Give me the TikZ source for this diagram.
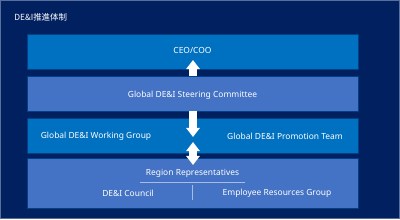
\documentclass[tikz,border=0pt]{standalone}
\usepackage{fontspec}
\setmainfont{Noto Sans}
\newfontfamily\jpfont{Noto Sans CJK JP}
\usepackage{tikz}
\usetikzlibrary{arrows.meta,positioning,calc}
\definecolor{navy}{HTML}{002060}
\definecolor{midblue}{HTML}{0070C0}
\definecolor{softblue}{HTML}{4472C4}
\definecolor{edgeblue}{HTML}{5A6E9C}
\definecolor{rule}{HTML}{A9BCE6}

\begin{document}
\begin{tikzpicture}[
    x=0.025cm, y=-0.025cm,
    tier/.style={draw=navy!60!midblue, line width=0.4pt, minimum width=8.275cm, inner sep=0pt},
    tierA/.style={tier, fill=midblue},
    tierB/.style={tier, fill=softblue},
    lbl/.style={text=white, font=\fontsize{6}{7}\selectfont, inner sep=0pt},
    flow/.style={white, line width=5.6pt, line cap=butt},
    blk/.tip={Triangle[width=9.5pt, length=6.5pt]}
]
\useasboundingbox (0,0) rectangle (400,219);
\fill[navy] (0,0) rectangle (400,219);
\draw[edgeblue, line width=0.6pt] (0.5,0.5) rectangle (399.5,218.5);

\node[lbl, anchor=west] (title) at (14,17) {\jpfont DE\&I推進体制};

\node[tierA, minimum height=0.875cm] (ceo) at (192.5,51.5) {};
\node[tierB, minimum height=0.875cm] (steer) at (192.5,93.5) {};
\node[tierA, minimum height=0.875cm] (work) at (192.5,135.5) {};
\node[tierB, minimum height=1.25cm] (region) at (192.5,183) {};

\node[lbl] (ceoT) at (192.5,50) {CEO/COO};
\node[lbl] (steerT) at (192.5,95) {Global DE\&I Steering Committee};
\node[lbl] (workT) at (96,136) {Global DE\&I Working Group};
\node[lbl] (promT) at (285,136) {Global DE\&I Promotion Team};
\node[lbl] (repT) at (192.5,173) {Region Representatives};
\node[lbl] (councilT) at (128,193) {DE\&I Council};
\node[lbl] (ergT) at (277,193) {Employee Resources Group};

% 区切り線
\coordinate (ruleL) at (140,182);
\coordinate (ruleR) at (245,182);
\coordinate (sepT) at (192,185);
\coordinate (sepB) at (192,200);
\draw[rule, line width=0.4pt] (ruleL) -- (ruleR);
\draw[rule, line width=0.4pt] (sepT) -- (sepB);

% 矢印
\coordinate (upTip) at (193,60);
\coordinate (downTip) at (193,137);
\coordinate (dblTop) at (193,142);
\coordinate (dblBot) at (193,165);
\draw[flow, -blk] (steer.north -| upTip) -- (upTip);
\draw[flow, -blk] (steer.south -| downTip) -- (downTip);
\draw[flow, blk-blk] (dblTop) -- (dblBot);
\end{tikzpicture}
\end{document}
